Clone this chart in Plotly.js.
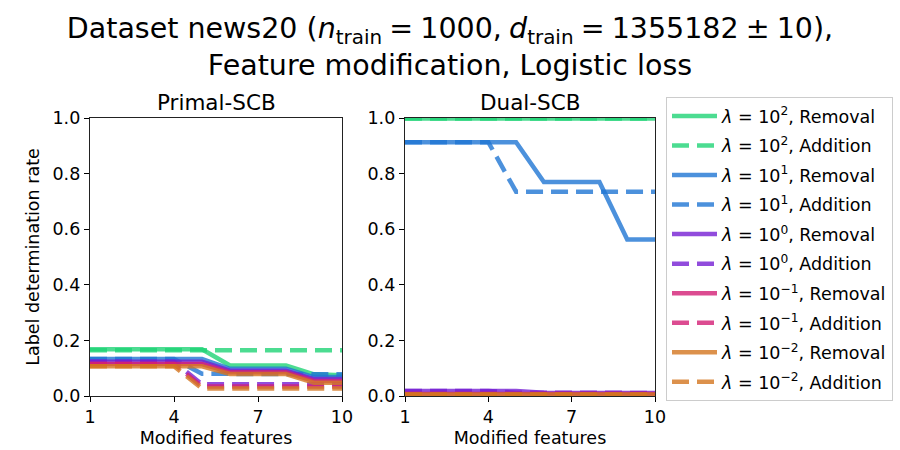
<!DOCTYPE html>
<html>
<head>
<meta charset="utf-8">
<script src="https://cdn.plot.ly/plotly-3.0.1.min.js"></script>
<style>html,body{margin:0;padding:0;background:#fff;}</style>
</head>
<body>
<div id="chart" style="width:900px;height:450px;"></div>
<script>
// ---- data ----
const modifiedFeatures = [1, 2, 3, 4, 5, 6, 7, 8, 9, 10];
const xTicks = [1, 4, 7, 10];
const lambdaLabels = ["10<sup>2</sup>", "10<sup>1</sup>", "10<sup>0</sup>", "10<sup>\u22121</sup>", "10<sup>\u22122</sup>"];
const seriesColors = ["rgb(31,211,117)", "rgb(31,117,211)", "rgb(117,31,211)", "rgb(211,31,117)", "rgb(211,117,31)"];

// Primal-SCB
const primalRemoval_l2  = [0.168, 0.168, 0.168, 0.168, 0.168, 0.110, 0.110, 0.110, 0.078, 0.075];
const primalAddition_l2 = [0.165, 0.165, 0.165, 0.165, 0.165, 0.165, 0.165, 0.165, 0.165, 0.165];
const primalRemoval_l1  = [0.133, 0.133, 0.133, 0.133, 0.133, 0.098, 0.098, 0.098, 0.068, 0.068];
const primalAddition_l1 = [0.133, 0.133, 0.133, 0.133, 0.080, 0.080, 0.080, 0.080, 0.078, 0.078];
const primalRemoval_l0  = [0.123, 0.123, 0.123, 0.123, 0.123, 0.091, 0.091, 0.091, 0.061, 0.061];
const primalAddition_l0 = [0.123, 0.123, 0.123, 0.123, 0.042, 0.042, 0.042, 0.042, 0.042, 0.042];
const primalRemoval_lm1  = [0.115, 0.115, 0.115, 0.115, 0.115, 0.085, 0.085, 0.085, 0.054, 0.054];
const primalAddition_lm1 = [0.115, 0.115, 0.115, 0.115, 0.034, 0.034, 0.034, 0.034, 0.034, 0.034];
const primalRemoval_lm2  = [0.107, 0.107, 0.107, 0.107, 0.107, 0.079, 0.079, 0.079, 0.048, 0.048];
const primalAddition_lm2 = [0.107, 0.107, 0.107, 0.107, 0.027, 0.027, 0.027, 0.027, 0.027, 0.027];

// Dual-SCB
const dualRemoval_l2  = [0.998, 0.998, 0.998, 0.998, 0.998, 0.998, 0.998, 0.998, 0.998, 0.998];
const dualAddition_l2 = [0.998, 0.998, 0.998, 0.998, 0.998, 0.998, 0.998, 0.998, 0.998, 0.998];
const dualRemoval_l1  = [0.913, 0.913, 0.913, 0.913, 0.913, 0.770, 0.770, 0.770, 0.563, 0.563];
const dualAddition_l1 = [0.913, 0.913, 0.913, 0.913, 0.735, 0.735, 0.735, 0.735, 0.735, 0.735];
const dualRemoval_l0  = [0.018, 0.018, 0.018, 0.018, 0.018, 0.012, 0.012, 0.012, 0.011, 0.011];
const dualAddition_l0 = [0.018, 0.018, 0.018, 0.018, 0.012, 0.012, 0.012, 0.012, 0.011, 0.011];
const dualRemoval_lm1  = [0.007, 0.007, 0.007, 0.007, 0.007, 0.007, 0.007, 0.007, 0.007, 0.007];
const dualAddition_lm1 = [0.007, 0.007, 0.007, 0.007, 0.007, 0.007, 0.007, 0.007, 0.007, 0.007];
const dualRemoval_lm2  = [0.005, 0.005, 0.005, 0.005, 0.005, 0.005, 0.005, 0.005, 0.005, 0.005];
const dualAddition_lm2 = [0.005, 0.005, 0.005, 0.005, 0.005, 0.005, 0.005, 0.005, 0.005, 0.005];

const primalRemoval = [primalRemoval_l2, primalRemoval_l1, primalRemoval_l0, primalRemoval_lm1, primalRemoval_lm2];
const primalAddition = [primalAddition_l2, primalAddition_l1, primalAddition_l0, primalAddition_lm1, primalAddition_lm2];
const dualRemoval = [dualRemoval_l2, dualRemoval_l1, dualRemoval_l0, dualRemoval_lm1, dualRemoval_lm2];
const dualAddition = [dualAddition_l2, dualAddition_l1, dualAddition_l0, dualAddition_lm1, dualAddition_lm2];

// ---- traces ----
const FONT = "DejaVu Sans, Liberation Sans, sans-serif";
const LW = 4.5;
const DASH = "17px,8px";
const traces = [];
for (let i = 0; i < 5; i++) {
  traces.push({
    x: modifiedFeatures, y: primalRemoval[i], xaxis: "x", yaxis: "y",
    mode: "lines", opacity: 0.8,
    line: {color: seriesColors[i], width: LW},
    name: "<i>\u03bb</i> = " + lambdaLabels[i] + ", Removal",
    legendgroup: "r" + i, showlegend: true
  });
  traces.push({
    x: modifiedFeatures, y: primalAddition[i], xaxis: "x", yaxis: "y",
    mode: "lines", opacity: 0.8,
    line: {color: seriesColors[i], width: LW, dash: DASH},
    name: "<i>\u03bb</i> = " + lambdaLabels[i] + ", Addition",
    legendgroup: "a" + i, showlegend: true
  });
}
for (let i = 0; i < 5; i++) {
  traces.push({
    x: modifiedFeatures, y: dualRemoval[i], xaxis: "x2", yaxis: "y2",
    mode: "lines", opacity: 0.8,
    line: {color: seriesColors[i], width: LW},
    showlegend: false, hoverinfo: "skip"
  });
  traces.push({
    x: modifiedFeatures, y: dualAddition[i], xaxis: "x2", yaxis: "y2",
    mode: "lines", opacity: 0.8,
    line: {color: seriesColors[i], width: LW, dash: DASH},
    showlegend: false, hoverinfo: "skip"
  });
}

const TICK = 17.5;
const xCommon = {
  range: [1, 10], tickvals: xTicks, ticks: "outside", ticklen: 5, tickwidth: 1,
  tickcolor: "#000", showline: true, linecolor: "#222", linewidth: 1.2, mirror: true,
  showgrid: false, zeroline: false,
  tickfont: {family: FONT, size: TICK, color: "#000"},
  title: {text: "Modified features", font: {family: FONT, size: TICK, color: "#000"}, standoff: 5}
};
const yCommon = {
  range: [0, 1], tickvals: [0, 0.2, 0.4, 0.6, 0.8, 1.0], tickformat: ".1f",
  ticks: "outside", ticklen: 5, tickwidth: 1, tickcolor: "#000",
  showline: true, linecolor: "#222", linewidth: 1.2, mirror: true,
  showgrid: false, zeroline: false,
  tickfont: {family: FONT, size: TICK, color: "#000"}
};

const layout = {
  width: 900, height: 450,
  margin: {l: 0, r: 0, t: 0, b: 0},
  paper_bgcolor: "#fff", plot_bgcolor: "#fff",
  showlegend: true,
  title: {
    text: "Dataset news20 (<i>n</i><sub>train</sub>\u2005=\u20051000,\u2005<i>d</i><sub>train</sub>\u2005=\u20051355182\u2005\u00b1\u200510),<br>Feature modification, Logistic loss",
    font: {family: FONT, size: 28.5, color: "#000"},
    x: 0.5, xanchor: "center", yref: "container", y: 1 - 38/450, yanchor: "middle"
  },
  xaxis: Object.assign({}, xCommon, {domain: [90/900, 342/900], anchor: "y"}),
  yaxis: Object.assign({}, yCommon, {domain: [1 - 396/450, 1 - 118/450], anchor: "x",
    title: {text: "Label determination rate", font: {family: FONT, size: TICK, color: "#000"}, standoff: 8}}),
  xaxis2: Object.assign({}, xCommon, {domain: [405/900, 655/900], anchor: "y2"}),
  yaxis2: Object.assign({}, yCommon, {domain: [1 - 396/450, 1 - 118/450], anchor: "x2"}),
  legend: {
    x: 666/900, y: 1 - 97/450, xanchor: "left", yanchor: "top",
    bordercolor: "#ccc", borderwidth: 1, bgcolor: "#fff",
    font: {family: FONT, size: 17.5, color: "#000"},
    tracegroupgap: 3.8, itemwidth: 45
  },
  annotations: [
    {text: "Primal-SCB", xref: "paper", yref: "paper", x: 216/900, y: 1 - 102/450,
     xanchor: "center", yanchor: "middle", showarrow: false,
     font: {family: FONT, size: 21.5, color: "#000"}},
    {text: "Dual-SCB", xref: "paper", yref: "paper", x: 530/900, y: 1 - 102/450,
     xanchor: "center", yanchor: "middle", showarrow: false,
     font: {family: FONT, size: 21.5, color: "#000"}}
  ]
};

Plotly.newPlot("chart", traces, layout, {displayModeBar: false, staticPlot: true});
</script>
</body>
</html>
